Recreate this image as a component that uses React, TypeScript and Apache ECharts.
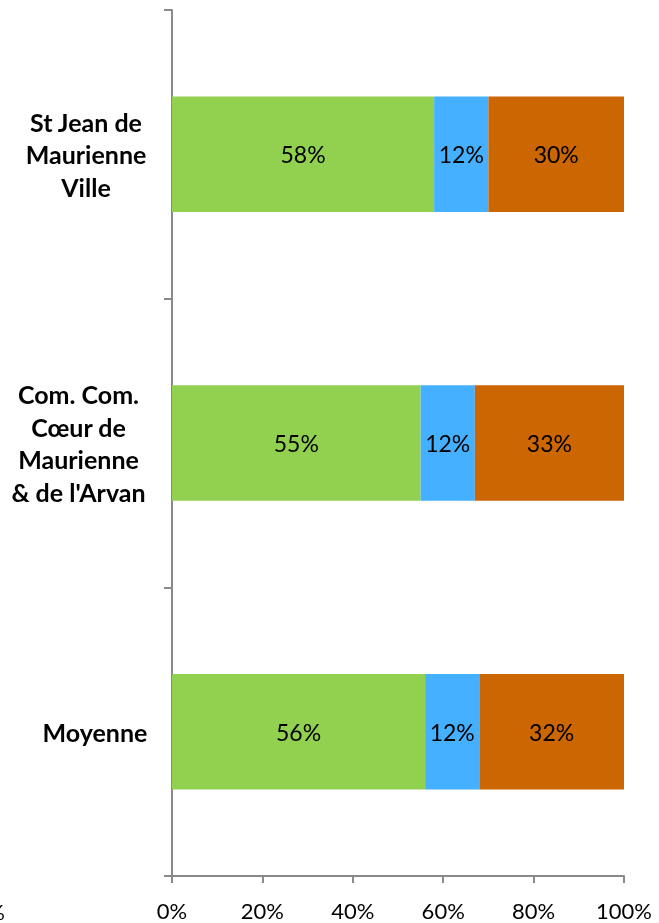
import React, { useEffect, useRef } from "react";
import * as echarts from "echarts";

const categories = [
  "St Jean de\nMaurienne\nVille",
  "Com. Com.\nCœur de\nMaurienne\n& de l'Arvan",
  "Moyenne",
];
const greenValues = [58, 55, 56];
const blueValues = [12, 12, 12];
const orangeValues = [30, 33, 32];
const xTicks = [0, 20, 40, 60, 80, 100];

const FONT = "Lato";

export default function App() {
  const ref = useRef<HTMLDivElement>(null);
  useEffect(() => {
    if (!ref.current) return;
    const chart = echarts.init(ref.current, undefined, { renderer: "svg" });
    const blockWidths = [122, 137, 104];
    const rich: Record<string, any> = {};
    blockWidths.forEach((w, i) => {
      rich["c" + i] = {
        width: w,
        align: "center",
        fontFamily: FONT,
        fontWeight: "bold",
        fontSize: 25,
        lineHeight: 32.5,
        color: "#000",
      };
    });
    const labelCfg = {
      show: true,
      position: "inside",
      formatter: (p: any) => p.value + "%",
      color: "#000",
      fontFamily: FONT,
      fontSize: 23,
    };
    const mk = (name: string, data: number[], color: string) => ({
      name,
      type: "bar",
      stack: "all",
      data,
      barWidth: "40%",
      itemStyle: { color },
      label: labelCfg,
    });
    chart.setOption({
      animation: false,
      grid: { left: 172, right: 35, top: 10, bottom: 47, containLabel: false },
      xAxis: {
        type: "value",
        min: 0,
        max: 100,
        interval: 20,
        axisLine: { show: true, lineStyle: { color: "#898989", width: 2 } },
        axisTick: { show: true, length: 7, lineStyle: { color: "#898989", width: 2 } },
        splitLine: { show: false },
        axisLabel: {
          formatter: (v: number) => (xTicks.includes(v) ? v + "%" : ""),
          color: "#000",
          fontFamily: FONT,
          fontSize: 22,
          margin: 23,
        },
      },
      yAxis: {
        type: "category",
        data: categories,
        inverse: true,
        axisLine: { show: true, lineStyle: { color: "#898989", width: 2 } },
        axisTick: { show: true, length: 8, lineStyle: { color: "#898989", width: 2 } },
        axisLabel: {
          margin: 25,
          align: "right",
          formatter: (v: string, i: number) =>
            v
              .split("\n")
              .map((l) => `{c${i}|${l}}`)
              .join("\n"),
          rich,
        },
      },
      series: [
        mk("A", greenValues, "#92D050"),
        mk("B", blueValues, "#45B0FF"),
        mk("C", orangeValues, "#CC6600"),
      ],
      graphic: [
        {
          type: "text",
          right: 654,
          top: 900,
          style: { text: "%", fontFamily: FONT, fontSize: 22, fill: "#000" },
        },
      ],
    });
    return () => chart.dispose();
  }, []);
  return (
    <div
      ref={ref}
      style={{ position: "fixed", left: 0, top: 0, width: 659, height: 923 }}
    />
  );
}
